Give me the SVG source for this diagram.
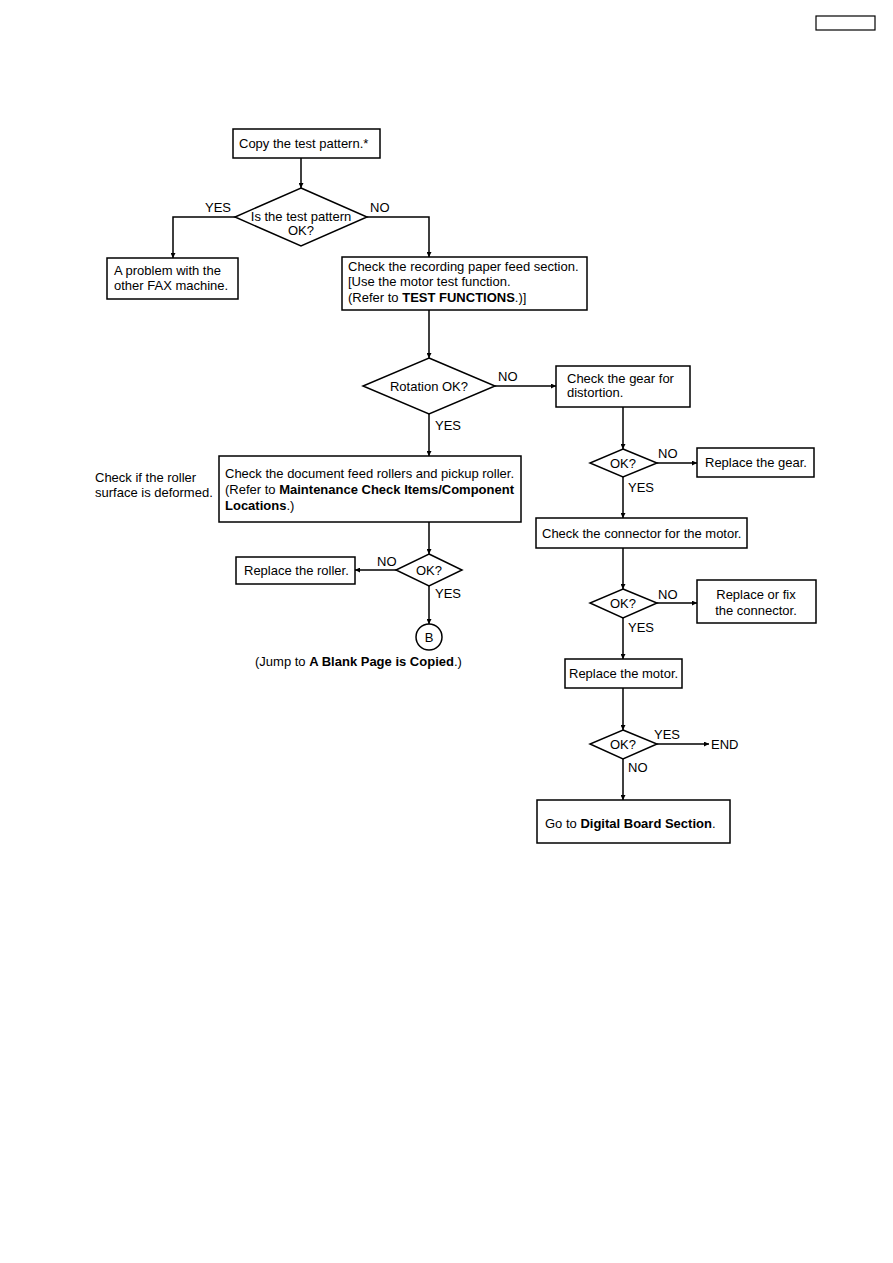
<svg xmlns="http://www.w3.org/2000/svg" width="893" height="1263" viewBox="0 0 893 1263">
<defs>
<marker id="arr" viewBox="0 0 10 10" refX="10" refY="5" markerWidth="7" markerHeight="5" markerUnits="userSpaceOnUse" orient="auto">
<path d="M0,0 L10,5 L0,10 z" fill="#000"/>
</marker>
</defs>
<style>
text{font-family:"Liberation Sans",Arial,sans-serif;font-size:13px;fill:#000}
.b{font-weight:bold}
.box{fill:#fff;stroke:#000;stroke-width:1.5}
.con{fill:none;stroke:#000;stroke-width:1.5}
.arrow{marker-end:url(#arr)}
</style>
<rect width="893" height="1263" fill="#fff"/>
<rect x="816" y="16" width="59" height="14" fill="none" stroke="#000" stroke-width="1.2"/>

<g id="connectors">
<path class="con arrow" d="M301,158 V188"/>
<path class="con arrow" d="M235,217 H173 V258"/>
<path class="con arrow" d="M367,217 H429 V257"/>
<path class="con arrow" d="M429,310 V358"/>
<path class="con arrow" d="M495,386 H556"/>
<path class="con arrow" d="M429,414 V456"/>
<path class="con arrow" d="M429,522 V554"/>
<path class="con arrow" d="M396,570 H355"/>
<path class="con arrow" d="M429,586 V624"/>
<path class="con arrow" d="M623,407 V449"/>
<path class="con arrow" d="M657,463 H697"/>
<path class="con arrow" d="M623,477 V518"/>
<path class="con arrow" d="M623,548 V589"/>
<path class="con arrow" d="M657,603 H697"/>
<path class="con arrow" d="M623,618 V659"/>
<path class="con arrow" d="M623,688 V730"/>
<path class="con arrow" d="M657,744 H709"/>
<path class="con arrow" d="M623,759 V800"/>
<text x="205" y="212">YES</text>
<text x="370" y="212">NO</text>
<text x="498" y="381">NO</text>
<text x="435" y="430">YES</text>
<text x="377" y="566">NO</text>
<text x="435" y="598">YES</text>
<text x="658" y="458">NO</text>
<text x="628" y="492">YES</text>
<text x="658" y="599">NO</text>
<text x="628" y="632">YES</text>
<text x="654" y="739">YES</text>
<text x="628" y="772">NO</text>
</g>

<g id="copy"><rect class="box" x="233" y="129" width="147" height="29"/><text x="239" y="148">Copy the test pattern.*</text></g>
<g id="d1"><polygon class="box" points="301,188 367,217 301,246 235,217"/><text x="301" y="221" text-anchor="middle">Is the test pattern</text><text x="301" y="235" text-anchor="middle">OK?</text></g>
<g id="problem"><rect class="box" x="107" y="258" width="131" height="41"/><text x="114" y="275">A problem with the</text><text x="114" y="290">other FAX machine.</text></g>
<g id="recording"><rect class="box" x="342" y="257" width="245" height="53"/><text x="348" y="271">Check the recording paper feed section.</text><text x="348" y="286">[Use the motor test function.</text><text x="348" y="302">(Refer to <tspan class="b">TEST FUNCTIONS</tspan>.)]</text></g>
<g id="rotation"><polygon class="box" points="429,358 495,386 429,414 363,386"/><text x="429" y="391" text-anchor="middle">Rotation OK?</text></g>
<g id="gear"><rect class="box" x="556" y="366" width="134" height="41"/><text x="567" y="383">Check the gear for</text><text x="567" y="397">distortion.</text></g>
<g id="note"><text x="95" y="482">Check if the roller</text><text x="95" y="497">surface is deformed.</text></g>
<g id="document"><rect class="box" x="219" y="456" width="302" height="66"/><text x="225" y="478">Check the document feed rollers and pickup roller.</text><text x="225" y="494">(Refer to <tspan class="b">Maintenance Check Items/Component</tspan></text><text x="225" y="510"><tspan class="b">Locations</tspan>.)</text></g>
<g id="d3"><polygon class="box" points="429,554 462,570 429,586 396,570"/><text x="429" y="575" text-anchor="middle">OK?</text></g>
<g id="roller"><rect class="box" x="236" y="557" width="119" height="27"/><text x="244" y="575">Replace the roller.</text></g>
<g id="b"><circle class="box" cx="429" cy="637" r="13"/><text x="429" y="642" text-anchor="middle">B</text></g>
<g id="jump"><text x="255" y="666">(Jump to <tspan class="b">A Blank Page is Copied</tspan>.)</text></g>
<g id="d4"><polygon class="box" points="623,449 657,463 623,477 590,463"/><text x="623" y="468" text-anchor="middle">OK?</text></g>
<g id="replgear"><rect class="box" x="697" y="448" width="117" height="29"/><text x="705" y="467">Replace the gear.</text></g>
<g id="connector"><rect class="box" x="536" y="518" width="211" height="30"/><text x="542" y="538">Check the connector for the motor.</text></g>
<g id="d5"><polygon class="box" points="623,589 657,603 623,618 590,603"/><text x="623" y="608" text-anchor="middle">OK?</text></g>
<g id="fix"><rect class="box" x="697" y="580" width="119" height="43"/><text x="756" y="599" text-anchor="middle">Replace or fix</text><text x="756" y="615" text-anchor="middle">the connector.</text></g>
<g id="motor"><rect class="box" x="565" y="659" width="117" height="29"/><text x="569" y="678">Replace the motor.</text></g>
<g id="d6"><polygon class="box" points="623,730 657,744 623,759 590,744"/><text x="623" y="749" text-anchor="middle">OK?</text></g>
<g id="end"><text x="711" y="749">END</text></g>
<g id="digital"><rect class="box" x="537" y="800" width="193" height="43"/><text x="545" y="828">Go to <tspan class="b">Digital Board Section</tspan>.</text></g>
</svg>
